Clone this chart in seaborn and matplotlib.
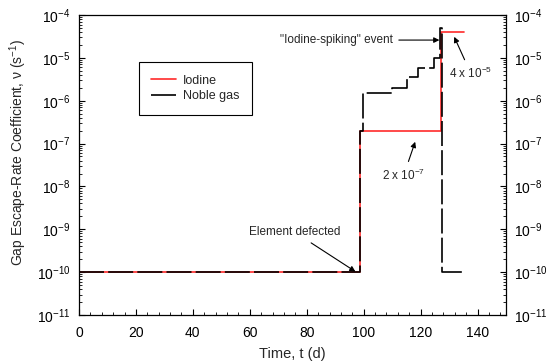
import matplotlib
matplotlib.use("Agg")
import matplotlib.pyplot as plt
from matplotlib.ticker import MultipleLocator, FixedLocator, NullFormatter
import seaborn as sns
import pandas as pd

# ---- data ----
iodine_t = [0, 98.8, 127.0, 135.3]
iodine_v = [1e-10, 2e-7, 4e-5, 4e-5]

noble_t = [0, 98.8, 99.9, 110.0, 115.3, 119.2, 124.8, 126.9, 127.4, 135.3]
noble_v = [1e-10, 2e-7, 1.5e-6, 2e-6, 3.6e-6, 5.8e-6, 1e-5, 5e-5, 1e-10, 1e-10]

series_names = ["Iodine", "Noble gas"]
x_ticks = [0, 20, 40, 60, 80, 100, 120, 140]
y_ticks = [1e-11, 1e-10, 1e-9, 1e-8, 1e-7, 1e-6, 1e-5, 1e-4]

df = pd.concat([
    pd.DataFrame({"t": iodine_t, "v": iodine_v, "series": series_names[0]}),
    pd.DataFrame({"t": noble_t, "v": noble_v, "series": series_names[1]}),
], ignore_index=True)

sns.set_style("ticks")
plt.rcParams["font.family"] = ["Liberation Sans", "DejaVu Sans"]
plt.rcParams["mathtext.default"] = "regular"

fig = plt.figure(figsize=(5.47, 3.62), dpi=100)
ax = fig.add_axes([79 / 547, 1 - 315 / 362, 427 / 547, 300 / 362])

sns.lineplot(data=df, x="t", y="v", hue="series", style="series",
             palette={"Iodine": "#ff2a2a", "Noble gas": "black"},
             dashes={"Iodine": "", "Noble gas": (15, 2.5)},
             estimator=None, sort=False, drawstyle="steps-post",
             linewidth=1.2, ax=ax, legend=True)

ax.set_yscale("log")
ax.set_xlim(0, 150)
ax.set_xticks(x_ticks)
ax.xaxis.set_minor_locator(MultipleLocator(4))
ax.set_yticks(y_ticks)
minor_y = [m * 10.0 ** e for e in range(-11, -4) for m in range(2, 10)]
ax.yaxis.set_minor_locator(FixedLocator(minor_y))
ax.yaxis.set_minor_formatter(NullFormatter())
ax.set_ylim(1e-11, 1e-4)

ax.tick_params(axis="both", which="both", direction="in", labelsize=10, colors="black")
ax.tick_params(axis="y", which="both", right=True, labelright=True, pad=6)
ax.tick_params(axis="x", which="both", top=False, pad=8)
ax.tick_params(which="major", length=4, width=0.8)
ax.tick_params(which="minor", length=2, width=0.6)
for s in ax.spines.values():
    s.set_linewidth(0.9)
    s.set_color("black")

ax.set_xlabel("Time, t (d)", fontsize=10.5, labelpad=5)
ax.set_ylabel("Gap Escape-Rate Coefficient, ν (s$^{-1}$)", fontsize=10)
ax.yaxis.set_label_coords(-0.118, 0.543)

leg = ax.legend(loc="upper left", bbox_to_anchor=(0.1405, 0.8433), borderaxespad=0,
                fontsize=9, frameon=True, fancybox=False, edgecolor="black",
                framealpha=1, handlelength=2.0, borderpad=1.0, labelspacing=0.3,
                handletextpad=0.5)
leg.get_frame().set_linewidth(0.8)

ap = dict(arrowstyle="-|>", color="black", lw=0.8, mutation_scale=8, shrinkA=2, shrinkB=0)
fs = 8.5
ax.annotate('"Iodine-spiking" event', xy=(126.6, 2.6e-5), xytext=(90.4, 2.6e-5),
            ha="center", va="center", fontsize=fs, arrowprops=ap)
ax.annotate("4 x 10$^{-5}$", xy=(131.8, 3.1e-5), xytext=(137.6, 4.4e-6),
            ha="center", va="center", fontsize=fs, arrowprops=ap)
ax.annotate("2 x 10$^{-7}$", xy=(118.1, 1.1e-7), xytext=(114.1, 1.85e-8),
            ha="center", va="center", fontsize=fs, arrowprops=ap)
ax.annotate("Element defected", xy=(97.1, 1.03e-10), xytext=(75.7, 8.6e-10),
            ha="center", va="center", fontsize=fs, arrowprops=ap)

fig.savefig("out.png", dpi=100)
